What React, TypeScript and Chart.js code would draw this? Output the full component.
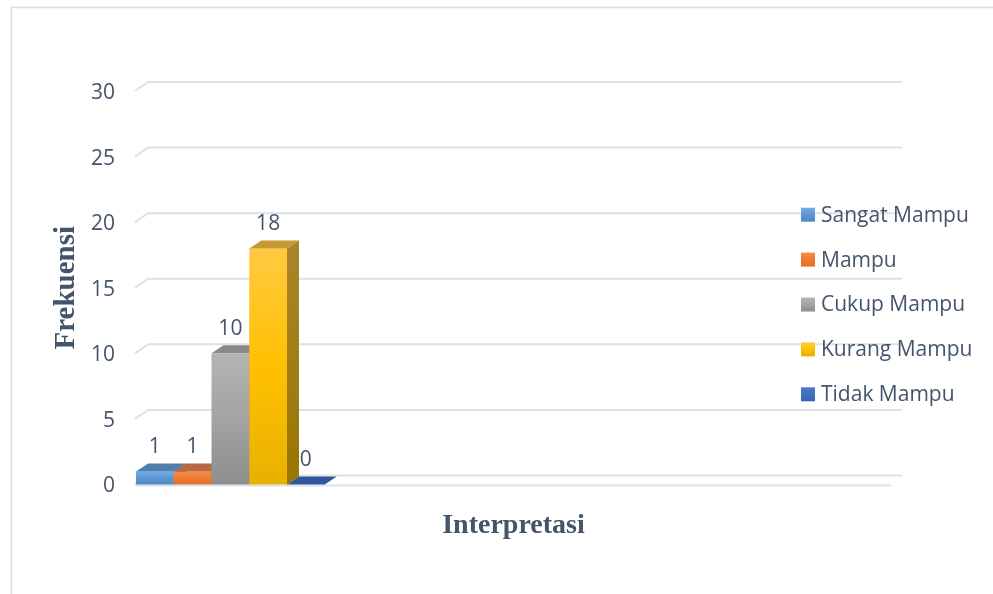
import { useEffect, useRef } from 'react';
import { Chart, registerables } from 'chart.js';

Chart.register(...registerables);

// Category slots along the floor; only the first slot carries the bars.
const categories = ['Interpretasi', '', '', ''];
const seriesLabels = ['Sangat Mampu', 'Mampu', 'Cukup Mampu', 'Kurang Mampu', 'Tidak Mampu'];
const seriesValues = [1, 1, 10, 18, 0];
const yMin = 0;
const yMax = 30;
const yStep = 5;

const TEXT = '#44546A';
const GRID = '#DEE1E6';
const LABEL_FONT = '"Open Sans", sans-serif';

// Face shading for each series: front gradient stops, top face, right side face.
const faces = [
  { front: ['#72AFE6', '#5A97D2', '#5088C3'], top: '#5081AD', side: ['#47769F', '#3B6890'] },
  { front: ['#F68B46', '#EE7A34', '#E46C24'], top: '#B86942', side: ['#A9592A', '#96491C'] },
  { front: ['#B4B4B4', '#A3A3A3', '#8E8E8E'], top: '#898989', side: ['#7C7C7C', '#6C6C6C'] },
  { front: ['#FFCA42', '#FFC000', '#E8B100'], top: '#C59A32', side: ['#A9852A', '#9A7502'] },
  { front: ['#4B79C9', '#4270C0', '#3763B0'], top: '#2F559C', side: ['#284C8E', '#21407A'] },
];

const BAR_DX = 12;
const BAR_DY = 8;
const GRID_DX = 13;
const GRID_DY = 9;

function frontGradient(ctx: CanvasRenderingContext2D, top: number, bottom: number, stops: string[]) {
  const g = ctx.createLinearGradient(0, top, 0, Math.max(bottom, top + 1));
  stops.forEach((c, i) => g.addColorStop(i / (stops.length - 1), c));
  return g;
}

const threeDBars = {
  id: 'threeDBars',
  beforeDraw(chart: any) {
    const ctx: CanvasRenderingContext2D = chart.ctx;
    ctx.save();
    ctx.fillStyle = '#FFFFFF';
    ctx.fillRect(0, 0, chart.width, chart.height);
    // outer frame of the chart object
    ctx.strokeStyle = '#DCE0E5';
    ctx.lineWidth = 1.5;
    ctx.beginPath();
    ctx.moveTo(11.5, chart.height + 2);
    ctx.lineTo(11.5, 7.5);
    ctx.lineTo(chart.width + 2, 7.5);
    ctx.stroke();
    ctx.restore();
  },
  beforeDatasetsDraw(chart: any) {
    const ctx: CanvasRenderingContext2D = chart.ctx;
    const { left, right } = chart.chartArea;
    const yScale = chart.scales.y;

    // back wall gridlines with the slanted side-wall segment
    ctx.save();
    ctx.strokeStyle = GRID;
    ctx.lineWidth = 2;
    yScale.ticks.forEach((t: any) => {
      const py = yScale.getPixelForValue(t.value);
      ctx.beginPath();
      ctx.moveTo(left - 1, py);
      ctx.lineTo(left - 1 + GRID_DX, py - GRID_DY);
      ctx.lineTo(right + GRID_DX - 2, py - GRID_DY);
      ctx.stroke();
    });
    // front edge of the floor
    const p0 = yScale.getPixelForValue(0);
    ctx.beginPath();
    ctx.moveTo(left - 1, p0 + 1);
    ctx.lineTo(right, p0 + 1);
    ctx.stroke();
    ctx.restore();

    // bars: front, top and right faces, painted left to right
    chart.data.datasets.forEach((ds: any, i: number) => {
      const meta = chart.getDatasetMeta(i);
      const f = faces[i % faces.length];
      meta.data.forEach((el: any, j: number) => {
        if (ds.data[j] == null) return;
        const { x, y, base, width } = el.getProps(['x', 'y', 'base', 'width'], true);
        const l = x - width / 2;
        const r = x + width / 2;
        const top = Math.min(y, base);
        const bottom = Math.max(y, base);
        ctx.save();
        if (bottom - top > 0.5) {
          ctx.fillStyle = frontGradient(ctx, top, bottom, f.front);
          ctx.fillRect(l, top, r - l, bottom - top);
        }
        ctx.fillStyle = f.top;
        ctx.beginPath();
        ctx.moveTo(l, top);
        ctx.lineTo(r, top);
        ctx.lineTo(r + BAR_DX, top - BAR_DY);
        ctx.lineTo(l + BAR_DX, top - BAR_DY);
        ctx.closePath();
        ctx.fill();
        if (bottom - top > 0.5) {
          ctx.fillStyle = frontGradient(ctx, top, bottom, f.side);
          ctx.beginPath();
          ctx.moveTo(r, top);
          ctx.lineTo(r + BAR_DX, top - BAR_DY);
          ctx.lineTo(r + BAR_DX, bottom - BAR_DY);
          ctx.lineTo(r, bottom);
          ctx.closePath();
          ctx.fill();
        }
        ctx.restore();
      });
    });
    return false;
  },
  afterDraw(chart: any) {
    const ctx: CanvasRenderingContext2D = chart.ctx;
    ctx.save();
    ctx.font = `21px ${LABEL_FONT}`;
    ctx.fillStyle = TEXT;

    // value labels above each bar
    ctx.textAlign = 'center';
    ctx.textBaseline = 'middle';
    chart.data.datasets.forEach((ds: any, i: number) => {
      const meta = chart.getDatasetMeta(i);
      meta.data.forEach((el: any, j: number) => {
        const v = ds.data[j];
        if (v == null) return;
        const { x, y } = el.getProps(['x', 'y'], true);
        ctx.fillText(String(v), x, y - 24);
      });
    });

    // legend on the right
    const lx = 801;
    const ly0 = 214.7;
    const gap = 44.9;
    ctx.textAlign = 'left';
    chart.data.datasets.forEach((ds: any, i: number) => {
      const cy = ly0 + i * gap;
      const f = faces[i % faces.length];
      ctx.fillStyle = frontGradient(ctx, cy - 7, cy + 7, f.front);
      ctx.fillRect(lx, cy - 7, 14, 14);
      ctx.fillStyle = TEXT;
      ctx.fillText(ds.label, lx + 20, cy + 1);
    });
    ctx.restore();
  },
};

export default function App() {
  const canvasRef = useRef<HTMLCanvasElement | null>(null);

  useEffect(() => {
    const canvas = canvasRef.current;
    if (!canvas) return;
    const datasets = seriesLabels.map((label, i) => ({
      label,
      data: categories.map((_, j) => (j === 0 ? seriesValues[i] : null)),
      backgroundColor: faces[i].front[1],
      categoryPercentage: 1,
      barPercentage: 1,
    }));
    const chart = new Chart(canvas, {
      type: 'bar',
      data: { labels: categories, datasets },
      plugins: [threeDBars],
      options: {
        responsive: false,
        animation: false,
        layout: { padding: { left: 0, top: 91, right: 102, bottom: 29.5 } },
        plugins: {
          legend: { display: false },
          tooltip: { enabled: false },
        },
        scales: {
          x: {
            offset: true,
            grid: { display: false, drawTicks: false },
            border: { display: false },
            ticks: { display: false },
            title: {
              display: true,
              text: 'Interpretasi',
              color: TEXT,
              font: { family: '"Liberation Serif", serif', size: 28, weight: 'bold' },
              padding: { top: 0, bottom: 22 },
            },
            afterFit(scale: any) {
              scale.height = 80;
            },
          },
          y: {
            min: yMin,
            max: yMax,
            grid: { display: false, drawTicks: false },
            border: { display: false },
            ticks: {
              stepSize: yStep,
              padding: 21,
              labelOffset: 2,
              color: TEXT,
              font: { family: LABEL_FONT, size: 21 },
            },
            title: {
              display: true,
              text: 'Frekuensi',
              color: TEXT,
              font: { family: '"Liberation Serif", serif', size: 29, weight: 'bold' },
              padding: { top: 49, bottom: 0 },
            },
            afterFit(scale: any) {
              scale.width = 136;
            },
          },
        },
      } as any,
    });
    return () => chart.destroy();
  }, []);

  return (
    <div style={{ position: 'fixed', left: 0, top: 0, width: 993, height: 594, background: '#fff' }}>
      <canvas ref={canvasRef} width={993} height={594} style={{ display: 'block' }} />
    </div>
  );
}
